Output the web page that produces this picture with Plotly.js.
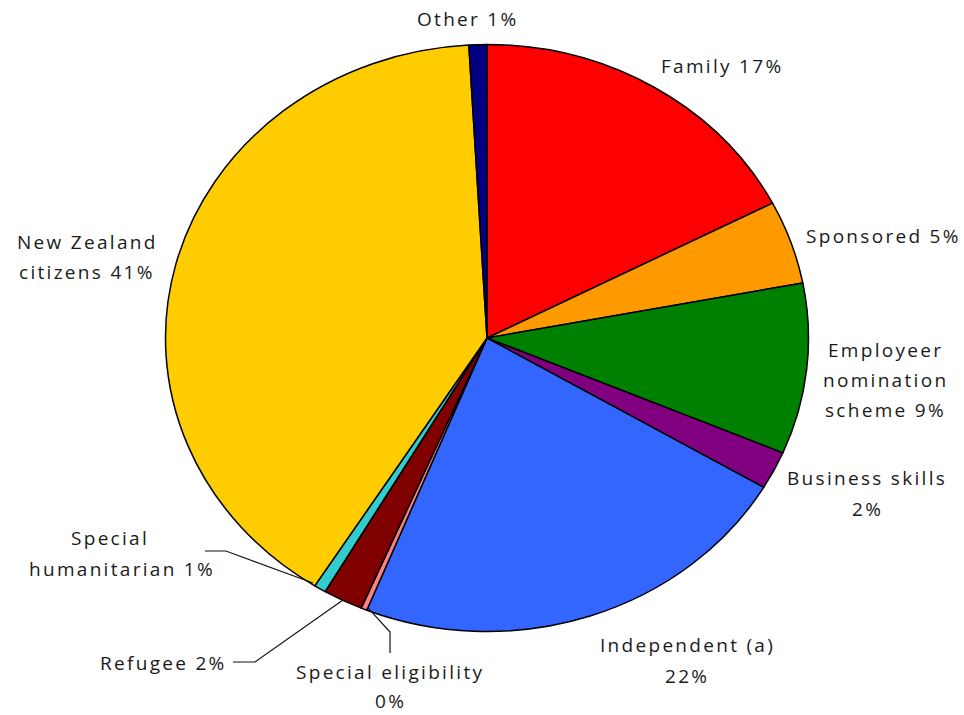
<!DOCTYPE html>
<html>
<head>
<meta charset="utf-8">
<script src="https://cdn.plot.ly/plotly-3.0.1.min.js"></script>
<style>
html,body{margin:0;padding:0;background:#fff;}
#chart{width:964px;height:715px;}
.annotation-text{letter-spacing:2.3px;}
.pielayer{transform-box:view-box;transform-origin:487px 338px;transform:scaleX(1.0954);}
.pielayer path{vector-effect:non-scaling-stroke;}
</style>
</head>
<body>
<div id="chart"></div>
<script>
// ---- data ----
const categories = ["Family", "Sponsored", "Employeer nomination scheme", "Business skills",
  "Independent (a)", "Special eligibility", "Refugee", "Special humanitarian",
  "New Zealand citizens", "Other"];
const shares = [17.4, 4.6, 9.4, 2.1, 22.6, 0.3, 2.0, 0.6, 40.1, 0.9];
const percentLabels = ["17%", "5%", "9%", "2%", "22%", "0%", "2%", "1%", "41%", "1%"];
const colors = ["#FF0000", "#FF9900", "#008000", "#800080", "#3366FF", "#FF8080",
  "#800000", "#33CCCC", "#FFCC00", "#000080"];

// ---- label layout (lines of each label, positions in pixels) ----
const W = 964, H = 715;
const labelLines = [
  [["Family 17%", 722, 66]],
  [["Sponsored 5%", 883, 236]],
  [["Employeer", 885, 350], ["nomination", 885, 380], ["scheme 9%", 885, 410]],
  [["Business skills", 867, 478], ["2%", 867, 509]],
  [["Independent (a)", 687, 645], ["22%", 687, 676]],
  [["Special eligibility", 390, 672], ["0%", 390, 701]],
  [["Refugee 2%", 163, 663]],
  [["Special", 110, 538], ["humanitarian 1%", 122, 569]],
  [["New Zealand", 87, 242], ["citizens 41%", 87, 272]],
  [["Other 1%", 468, 19]]
];

const annotations = [];
labelLines.forEach(lines => lines.forEach(([t, x, y]) => {
  annotations.push({
    text: t, x: x / W, y: 1 - y / H, xref: "paper", yref: "paper",
    xanchor: "center", yanchor: "middle", showarrow: false,
    font: {family: "Open Sans, sans-serif", size: 19, color: "#1a1a1a"}
  });
}));

function px(x, y) { return [(x / W).toFixed(4), (1 - y / H).toFixed(4)]; }
function path(pts) {
  return pts.map((p, i) => (i ? "L" : "M") + px(p[0], p[1]).join(",")).join(" ");
}
const leaderLines = [
  [[205, 551], [226, 551], [313, 583]],
  [[233, 662], [255, 662], [343, 600]],
  [[368, 608], [390, 632], [390, 653]]
];
const shapes = leaderLines.map(pts => ({
  type: "path", xref: "paper", yref: "paper", path: path(pts),
  line: {color: "#111", width: 1.2}
}));

const cx = 487, cy = 338, r = 293.5;
const trace = {
  type: "pie",
  labels: categories,
  values: shares,
  sort: false,
  direction: "clockwise",
  rotation: 0,
  textinfo: "none",
  hoverinfo: "label+percent",
  marker: {colors: colors, line: {color: "#000", width: 1.5}},
  domain: {x: [(cx - r) / W, (cx + r) / W], y: [1 - (cy + r) / H, 1 - (cy - r) / H]},
  showlegend: false
};

const layout = {
  width: W, height: H,
  margin: {l: 0, r: 0, t: 0, b: 0},
  paper_bgcolor: "#fff",
  showlegend: false,
  annotations: annotations,
  shapes: shapes
};
Plotly.newPlot("chart", [trace], layout, {displayModeBar: false, staticPlot: true});
</script>
</body>
</html>
